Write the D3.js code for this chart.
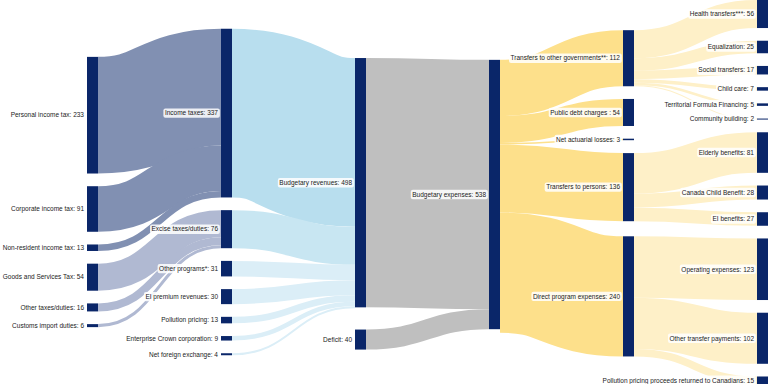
<!DOCTYPE html>
<html lang="en">
<head>
<meta charset="UTF-8">
<title>Budget Sankey</title>
<script src="https://cdn.jsdelivr.net/npm/d3@7"></script>
<style>
    body { margin: 0; background: #fff; font-family: Arial, "Liberation Sans", sans-serif; }
    svg { display: block; }
    .lbl { font-size: 6.5px; fill: #1a1a1a; }
</style>
</head>
<body>
<script>
// node names, in the order they appear top to bottom in each column
const nodeNames = [
    "Personal income tax", "Corporate income tax", "Non-resident income tax",
    "Goods and Services Tax", "Other taxes/duties", "Customs import duties",
    "Income taxes", "Excise taxes/duties", "Other programs*", "EI premium revenues",
    "Pollution pricing", "Enterprise Crown corporation", "Net foreign exchange",
    "Budgetary revenues", "Deficit",
    "Budgetary expenses",
    "Transfers to other governments**", "Public debt charges ", "Net actuarial losses",
    "Transfers to persons", "Direct program expenses",
    "Health transfers***", "Equalization", "Social transfers", "Child care",
    "Territorial Formula Financing", "Community building",
    "Elderly benefits", "Canada Child Benefit", "EI benefits",
    "Operating expenses", "Other transfer payments", "Pollution pricing proceeds returned to Canadians"
];
// value shown in each node label (also used as the node's fixed size)
const nodeTotals = [233, 91, 13, 54, 16, 6, 337, 76, 31, 30, 13, 9, 4, 498, 40, 538,
    112, 54, 3, 136, 240, 56, 25, 17, 7, 5, 2, 81, 28, 27, 123, 102, 15];

// [source, target, value]
const flows = [
    ["Personal income tax", "Income taxes", 233],
    ["Corporate income tax", "Income taxes", 91],
    ["Non-resident income tax", "Income taxes", 13],
    ["Goods and Services Tax", "Excise taxes/duties", 54],
    ["Other taxes/duties", "Excise taxes/duties", 16],
    ["Customs import duties", "Excise taxes/duties", 6],
    ["Income taxes", "Budgetary revenues", 337],
    ["Excise taxes/duties", "Budgetary revenues", 76],
    ["Other programs*", "Budgetary revenues", 31],
    ["EI premium revenues", "Budgetary revenues", 30],
    ["Pollution pricing", "Budgetary revenues", 13],
    ["Enterprise Crown corporation", "Budgetary revenues", 9],
    ["Net foreign exchange", "Budgetary revenues", 4],
    ["Budgetary revenues", "Budgetary expenses", 498],
    ["Deficit", "Budgetary expenses", 40],
    ["Budgetary expenses", "Transfers to other governments**", 112],
    ["Budgetary expenses", "Public debt charges ", 54],
    ["Budgetary expenses", "Net actuarial losses", 3],
    ["Budgetary expenses", "Transfers to persons", 136],
    ["Budgetary expenses", "Direct program expenses", 240],
    ["Transfers to other governments**", "Health transfers***", 56],
    ["Transfers to other governments**", "Equalization", 25],
    ["Transfers to other governments**", "Social transfers", 17],
    ["Transfers to other governments**", "Child care", 7],
    ["Transfers to other governments**", "Territorial Formula Financing", 5],
    ["Transfers to other governments**", "Community building", 2],
    ["Transfers to persons", "Elderly benefits", 81],
    ["Transfers to persons", "Canada Child Benefit", 28],
    ["Transfers to persons", "EI benefits", 27],
    ["Direct program expenses", "Operating expenses", 123],
    ["Direct program expenses", "Other transfer payments", 102],
    ["Direct program expenses", "Pollution pricing proceeds returned to Canadians", 15]
];

const width = 768, height = 384;
const ext = {x0: 87, y0: 0, x1: 768, y1: 384};
const nodeWidth = 11, nodePadding = 12.7, iterations = 32;

const nodeColor = "#0a2669";
function linkColor(l) {
    const s = l.source.name, t = l.target.name;
    if (t === "Income taxes") return "#8190b2";
    if (t === "Excise taxes/duties") return "#b0b9d2";
    if (s === "Income taxes") return "#b8deee";
    if (s === "Excise taxes/duties") return "#c8e6f2";
    if (t === "Budgetary revenues") return "#dbeef7";
    if (t === "Budgetary expenses") return "#bfbfbf";
    if (s === "Budgetary expenses") return "#fde08b";
    return "#fef0c8";
}

// ---- sankey graph ----
const nodes = nodeNames.map((name, i) => ({name, index: i, total: nodeTotals[i], sourceLinks: [], targetLinks: []}));
const byName = new Map(nodes.map(n => [n.name, n]));
const links = flows.map(([s, t, v], i) => ({source: byName.get(s), target: byName.get(t), value: v, index: i}));
links.forEach(l => { l.source.sourceLinks.push(l); l.target.targetLinks.push(l); });
nodes.forEach(n => n.value = n.total);

// depths, then center alignment for columns
{
    let current = new Set(nodes), next = new Set, x = 0;
    while (current.size) {
        for (const n of current) { n.depth = x; for (const l of n.sourceLinks) next.add(l.target); }
        x++; current = next; next = new Set;
    }
}
const nCols = d3.max(nodes, n => n.depth) + 1;
nodes.forEach(n => {
    n.layer = n.targetLinks.length ? n.depth
        : n.sourceLinks.length ? d3.min(n.sourceLinks, l => l.target.depth) - 1 : 0;
});
const xScale = d3.scaleLinear().domain([0, nCols - 1]).range([ext.x0, ext.x1 - nodeWidth]);
nodes.forEach(n => { n.x0 = xScale(n.layer); n.x1 = n.x0 + nodeWidth; });
const columns = d3.range(nCols).map(c => nodes.filter(n => n.layer === c));

const py = nodePadding;
const ky = d3.min(columns, c => (ext.y1 - ext.y0 - (c.length - 1) * py) / d3.sum(c, n => n.value));
const vScale = d3.scaleLinear().domain([0, 1]).range([0, ky]);
links.forEach(l => l.width = vScale(l.value));

const shift = (n, dy) => { n.y0 += dy; n.y1 += dy; };
const center = n => (n.y0 + n.y1) / 2;
const byY = (a, b) => a.y0 - b.y0;
const bySource = (a, b) => byY(a.source, b.source) || a.index - b.index;
const byTarget = (a, b) => byY(a.target, b.target) || a.index - b.index;
function reorderLinks(ns) {
    for (const n of ns) { n.sourceLinks.sort(byTarget); n.targetLinks.sort(bySource); }
}

// layout A: link-top relaxation (d3-sankey 0.12 style)
function layoutLinkTop() {
    function reorderNodeLinks(n) {
        for (const l of n.targetLinks) l.source.sourceLinks.sort(byTarget);
        for (const l of n.sourceLinks) l.target.targetLinks.sort(bySource);
    }
    for (const col of columns) {
        let y = ext.y0;
        for (const n of col) { n.y0 = y; n.y1 = y + vScale(n.value); y = n.y1 + py; }
        const step = (ext.y1 - y + py) / (col.length + 1);
        col.forEach((n, i) => shift(n, step * (i + 1)));
        reorderLinks(col);
    }
    function targetTop(source, target) {
        let y = source.y0 - (source.sourceLinks.length - 1) * py / 2;
        for (const l of source.sourceLinks) { if (l.target === target) break; y += l.width + py; }
        for (const l of target.targetLinks) { if (l.source === source) break; y -= l.width; }
        return y;
    }
    function sourceTop(source, target) {
        let y = target.y0 - (target.targetLinks.length - 1) * py / 2;
        for (const l of target.targetLinks) { if (l.source === source) break; y += l.width + py; }
        for (const l of source.sourceLinks) { if (l.target === target) break; y -= l.width; }
        return y;
    }
    function down(ns, y, i, a) {
        for (; i < ns.length; ++i) {
            const n = ns[i], dy = (y - n.y0) * a;
            if (dy > 1e-6) shift(n, dy);
            y = n.y1 + py;
        }
    }
    function up(ns, y, i, a) {
        for (; i >= 0; --i) {
            const n = ns[i], dy = (n.y1 - y) * a;
            if (dy > 1e-6) shift(n, -dy);
            y = n.y0 - py;
        }
    }
    function collide(ns, a) {
        const i = ns.length >> 1, subject = ns[i];
        up(ns, subject.y0 - py, i - 1, a);
        down(ns, subject.y1 + py, i + 1, a);
        up(ns, ext.y1, ns.length - 1, a);
        down(ns, ext.y0, 0, a);
    }
    for (let it = 0; it < iterations; ++it) {
        const alpha = Math.pow(0.99, it);
        const beta = Math.max(1 - alpha, (it + 1) / iterations);
        for (let i = nCols - 2; i >= 0; --i) {
            for (const s of columns[i]) {
                let y = 0, w = 0;
                for (const l of s.sourceLinks) {
                    const v = l.value * (l.target.layer - s.layer);
                    y += sourceTop(s, l.target) * v; w += v;
                }
                if (!(w > 0)) continue;
                shift(s, (y / w - s.y0) * alpha);
                reorderNodeLinks(s);
            }
            collide(columns[i], beta);
        }
        for (let i = 1; i < nCols; ++i) {
            for (const t of columns[i]) {
                let y = 0, w = 0;
                for (const l of t.targetLinks) {
                    const v = l.value * (t.layer - l.source.layer);
                    y += targetTop(l.source, t) * v; w += v;
                }
                if (!(w > 0)) continue;
                shift(t, (y / w - t.y0) * alpha);
                reorderNodeLinks(t);
            }
            collide(columns[i], beta);
        }
    }
    return nodes.map(n => n.y0);
}

// layout B: classic center-weighted relaxation
function layoutCenter() {
    columns.forEach(col => col.forEach((n, i) => { n.y0 = i; n.y1 = i + vScale(n.value); }));
    function collide() {
        for (const col of columns) {
            let y = ext.y0, node;
            for (node of col) {
                const dy = y - node.y0;
                if (dy > 0) shift(node, dy);
                y = node.y1 + py;
            }
            let dy = y - py - ext.y1;
            if (dy > 0) {
                shift(node, -dy);
                y = node.y0;
                for (let i = col.length - 2; i >= 0; --i) {
                    node = col[i];
                    dy = node.y1 + py - y;
                    if (dy > 0) shift(node, -dy);
                    y = node.y0;
                }
            }
        }
    }
    collide();
    for (let alpha = 1, k = iterations; k > 0; --k) {
        alpha *= 0.99;
        for (const col of columns.slice().reverse()) for (const n of col) {
            if (!n.sourceLinks.length) continue;
            const y = d3.sum(n.sourceLinks, l => center(l.target) * l.value) / d3.sum(n.sourceLinks, l => l.value);
            shift(n, (y - center(n)) * alpha);
        }
        collide();
        for (const col of columns) for (const n of col) {
            if (!n.targetLinks.length) continue;
            const y = d3.sum(n.targetLinks, l => center(l.source) * l.value) / d3.sum(n.targetLinks, l => l.value);
            shift(n, (y - center(n)) * alpha);
        }
        collide();
    }
    return nodes.map(n => n.y0);
}

// final node position: middle of the two relaxations
const ya = layoutLinkTop();
const yb = layoutCenter();
nodes.forEach((n, i) => { n.y0 = (ya[i] + yb[i]) / 2; n.y1 = n.y0 + vScale(n.value); });

reorderLinks(nodes);
for (const n of nodes) {
    let a = n.y0, b = n.y0;
    for (const l of n.sourceLinks) { l.y0 = a + l.width / 2; a += l.width; }
    for (const l of n.targetLinks) { l.y1 = b + l.width / 2; b += l.width; }
}

// ---- drawing ----
const svg = d3.select("body").append("svg")
    .attr("width", width)
    .attr("height", height);

const linkPath = d3.linkHorizontal()
    .source(d => [d.source.x1, d.y0])
    .target(d => [d.target.x0, d.y1]);

svg.append("g")
    .attr("fill", "none")
    .selectAll("path")
    .data(links)
    .join("path")
    .attr("d", linkPath)
    .attr("stroke", linkColor)
    .attr("stroke-width", d => Math.max(1, d.width));

svg.append("g")
    .selectAll("rect")
    .data(nodes)
    .join("rect")
    .attr("x", d => d.x0)
    .attr("y", d => d.y0)
    .attr("width", nodeWidth)
    .attr("height", d => Math.max(1, d.y1 - d.y0))
    .attr("fill", nodeColor);

const labels = svg.append("g")
    .selectAll("g")
    .data(nodes)
    .join("g")
    .attr("transform", d => `translate(${d.x0 - 3},${(d.y0 + d.y1) / 2})`);

labels.append("rect").attr("class", "bg");
labels.append("text")
    .attr("class", "lbl")
    .attr("text-anchor", "end")
    .attr("dy", "0.35em")
    .text(d => `${d.name}: ${d.total}`);

labels.each(function() {
    const g = d3.select(this);
    const bb = g.select("text").node().getBBox();
    g.select("rect.bg")
        .attr("x", bb.x - 1.5)
        .attr("y", -4.7)
        .attr("width", bb.width + 3)
        .attr("height", 9.4)
        .attr("rx", 2)
        .attr("fill", "#fff")
        .attr("fill-opacity", 0.85);
});
</script>
</body>
</html>
